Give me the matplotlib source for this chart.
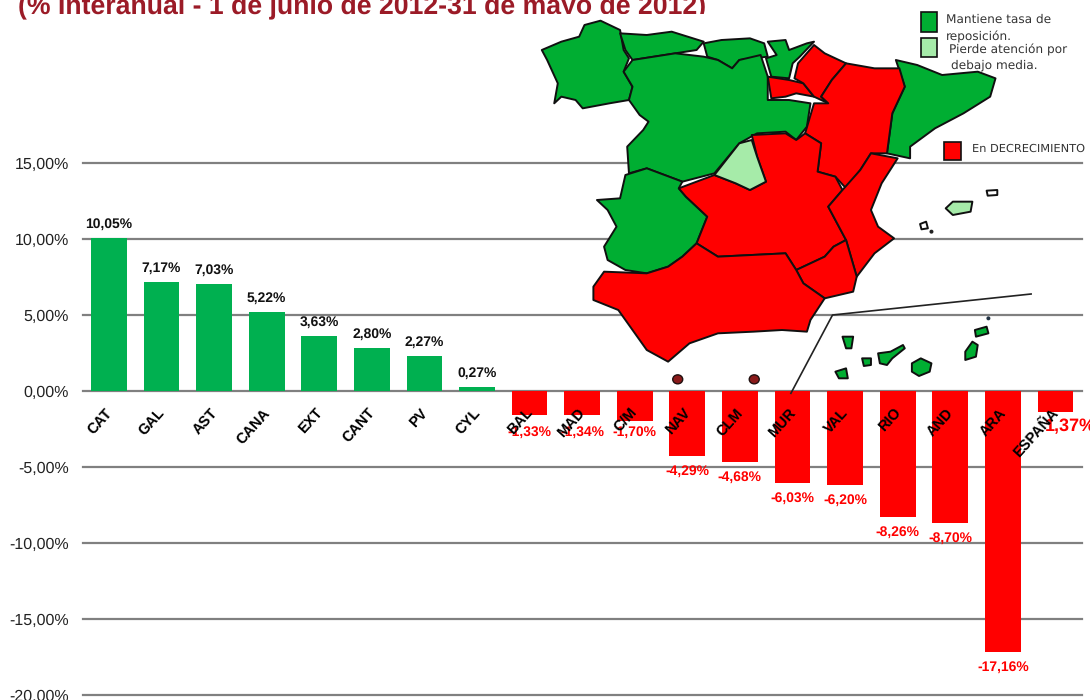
import matplotlib
matplotlib.use('Agg')
import matplotlib.pyplot as plt
from matplotlib.patches import Polygon, Rectangle, Ellipse

plt.rcParams['font.family'] = ['Liberation Sans', 'DejaVu Sans']
plt.rcParams['text.hinting'] = 'no_hinting'

categories = ['CAT', 'GAL', 'AST', 'CANA', 'EXT', 'CANT', 'PV', 'CYL', 'BAL', 'MAD', 'C/M',
              'NAV', 'CLM', 'MUR', 'VAL', 'RIO', 'AND', 'ARA', 'ESPAÑA']
# bar lengths as drawn (BAL, MAD and C/M are drawn longer than their labels say)
values = [10.05, 7.17, 7.03, 5.22, 3.63, 2.80, 2.27, 0.27, -1.55, -1.55, -1.95,
          -4.29, -4.68, -6.03, -6.20, -8.26, -8.70, -17.16, -1.37]
value_labels = ['10,05%', '7,17%', '7,03%', '5,22%', '3,63%', '2,80%', '2,27%', '0,27%',
                '-1,33%', '-1,34%', '-1,70%', '-4,29%', '-4,68%', '-6,03%', '-6,20%',
                '-8,26%', '-8,70%', '-17,16%', '1,37%']
yticks = [15, 10, 5, 0, -5, -10, -15, -20]
ytick_labels = ['15,00%', '10,00%', '5,00%', '0,00%', '-5,00%', '-10,00%', '-15,00%', '-20,00%']

W, H = 1090, 700
GRID = '#808080'
GREEN = '#00B050'
RED = '#FF0000'
TITLE = '#9B1B27'

fig = plt.figure(figsize=(W / 100, H / 100), dpi=100)
ax = fig.add_axes([82.7 / W, 5 / H, 999 / W, 532 / H])

x = list(range(len(categories)))
colors = [GREEN if v > 0 else RED for v in values]
ax.bar(x, values, width=0.68, color=colors, zorder=2)
ax.set_xlim(-0.5, 18.5)
ax.set_ylim(-20, 15)
for s in ax.spines.values():
    s.set_visible(False)
ax.set_yticks(yticks)
ax.set_yticklabels(ytick_labels, fontsize=11.5, color='#222222')
ax.tick_params(axis='y', length=0, pad=10)
ax.set_xticks([])
for yy in yticks:
    ax.axhline(yy, color=GRID, lw=1.6, zorder=1, clip_on=False)

# the short bars have their labels placed a little differently
label_shift = {'BAL': -12.5, 'MAD': -12.5, 'C/M': -8.5}
for i, (v, lab) in enumerate(zip(values, value_labels)):
    if lab == '1,37%':
        ax.annotate(lab, (i, v), xytext=(10.5, -10.5), textcoords='offset points', ha='center',
                    va='center', color=RED, fontsize=13, fontweight='bold',
                    family=['Liberation Sans Narrow', 'Liberation Sans'],
                    annotation_clip=False, zorder=5)
    elif v > 0:
        ax.annotate(lab, (i, v), xytext=(0, 10), textcoords='offset points', ha='center',
                    va='center', fontsize=10, fontweight='bold', color='#111111', zorder=5)
    else:
        ax.annotate(lab, (i, v), xytext=(0, label_shift.get(categories[i], -11)),
                    textcoords='offset points', ha='center',
                    va='center', fontsize=10, fontweight='bold', color=RED, zorder=5)

# category names sit rotated just under the zero line
for i, c in enumerate(categories):
    ax.annotate(c, (i, 0), xytext=(0.5, -14), textcoords='offset points', rotation=48,
                rotation_mode='anchor', ha='right', va='center', fontsize=10.5, color='black',
                fontweight='bold', annotation_clip=False, zorder=6)

fig.text(18 / W, 1 - 14 / H, '(% Interanual - 1 de junio de 2012-31 de mayo de 2012)',
         fontsize=19.2, fontweight='bold', color=TITLE, ha='left', va='baseline')

# pasted map image, redrawn as outlines in pixel coordinates of a 3x crop
mp = fig.add_axes([0, 0, 1, 1], zorder=10)
mp.set_xlim(0, W)
mp.set_ylim(H, 0)
mp.axis('off')
mp.patch.set_alpha(0)

# the picture's top edge cuts the tail of the title
mp.add_patch(Rectangle((541, 14), 190, 12, facecolor='white', edgecolor='none'))

MAP_GREEN = '#00AE32'
MAP_LIGHT = '#A6EBA9'
regions_green = [
    [(5,150),(60,125),(110,110),(125,75),(170,62),(225,90),(235,150),(250,175),(235,215),(260,260),(250,300),(195,310),(120,325),(100,300),(60,290),(40,310),(50,250),(20,180)],
    [(225,100),(300,105),(370,95),(460,125),(440,150),(380,160),(320,170),(260,180),(240,150)],
    [(460,130),(510,120),(590,115),(630,130),(640,170),(600,175),(560,180),(540,205),(500,180),(470,170)],
    [(640,125),(690,120),(700,150),(750,130),(770,125),(730,170),(710,190),(700,235),(650,230),(635,175),(665,165)],
    [(260,180),(380,160),(460,170),(500,180),(540,205),(560,180),(620,165),(640,230),(640,300),(700,300),(760,310),(750,380),(720,420),(690,395),(610,400),(560,430),(490,520),(400,545),(300,505),(250,520),(245,440),(290,390),(305,365),(280,345),(250,300),(260,260),(235,215)],
    [(1000,180),(1060,195),(1130,225),(1230,215),(1280,235),(1265,290),(1190,340),(1110,385),(1040,440),(1040,475),(975,460),(990,340),(1025,260)],
    [(300,505),(400,545),(390,565),(410,590),(470,650),(440,730),(400,770),(360,800),(300,820),(240,810),(190,780),(180,740),(215,680),(190,630),(160,600),(225,595),(240,525)],
    # canaries
    [(850,1010),(880,1010),(875,1045),(860,1045)],
    [(905,1075),(930,1075),(930,1095),(910,1098)],
    [(830,1115),(860,1105),(865,1135),(840,1135)],
    [(950,1060),(985,1055),(1020,1035),(1025,1045),(990,1075),(975,1095),(955,1090)],
    [(1045,1090),(1070,1075),(1100,1090),(1095,1115),(1065,1128),(1045,1115)],
    [(1195,1055),(1215,1025),(1230,1035),(1225,1070),(1195,1080)],
    [(1222,990),(1255,980),(1260,1000),(1225,1010)],
]
regions_red = [
    [(640,230),(700,240),(740,250),(770,290),(720,280),(690,290),(650,295)],
    [(770,135),(800,160),(860,190),(820,240),(790,290),(810,310),(770,290),(740,250),(715,235),(725,190)],
    [(860,190),(940,205),(1010,205),(1025,260),(990,340),(975,460),(930,460),(900,510),(860,565),(830,530),(780,515),(790,430),(745,400),(770,310),(810,310),(790,290),(820,240)],
    [(595,405),(690,400),(720,420),(745,400),(790,430),(780,515),(830,530),(850,570),(810,620),(840,680),(860,720),(825,740),(800,770),(720,810),(690,760),(500,770),(440,730),(470,650),(410,590),(390,565),(490,525),(550,550),(590,570),(635,545),(610,470)],
    [(930,460),(1005,475),(960,550),(930,630),(950,680),(995,715),(940,760),(890,830),(860,720),(840,680),(810,620),(850,570),(900,510)],
    [(825,740),(860,720),(890,830),(880,875),(800,895),(740,850),(720,810),(800,770)],
    [(440,730),(500,770),(690,760),(720,810),(740,850),(800,895),(760,960),(750,995),(680,990),(600,995),(500,1000),(420,1030),(360,1085),(300,1050),(260,990),(220,930),(150,900),(150,860),(180,815),(300,820),(360,800),(400,770)],
]
regions_light = [
    [(490,525),(560,430),(595,420),(610,470),(635,545),(590,570),(550,550)],
    [(1140,625),(1160,605),(1215,605),(1210,635),(1160,645)],
]
regions_white = [
    [(1255,572),(1285,570),(1285,585),(1258,587)],
    [(1068,672),(1085,665),(1090,685),(1072,688)],
]


def px(pts):
    return [(540 + a / 2.81, b / 3) for a, b in pts]


for regs, col in [(regions_green, MAP_GREEN), (regions_red, RED), (regions_light, MAP_LIGHT),
                  (regions_white, 'white')]:
    for r in regs:
        mp.add_patch(Polygon(px(r), closed=True, facecolor=col, edgecolor='#101010', lw=1.4, joinstyle='round'))

# ceuta, melilla and small islet marks
for cx, cy in [(387, 1138), (602, 1138)]:
    (a, b), = px([(cx, cy)])
    mp.add_patch(Ellipse((a, b), 10, 9, facecolor='#8A1A1A', edgecolor='#201010', lw=1))
(a, b), = px([(1100, 695)])
mp.add_patch(Ellipse((a, b), 4, 4, facecolor='#222222', edgecolor='none'))
(a, b), = px([(1260, 955)])
mp.add_patch(Ellipse((a, b), 4, 4, facecolor='#223344', edgecolor='none'))

# canaries inset line
lx, ly = zip(*px([(705, 1180), (822, 945), (1380, 882)]))
mp.plot(lx, ly, color='#222222', lw=1.2)

# legend of the map
for (x0, y0, x1, y1), col in [((1070, 37, 1115, 95), MAP_GREEN), ((1070, 115, 1115, 172), MAP_LIGHT),
                              ((1135, 425, 1183, 480), RED)]:
    (a0, b0), (a1, b1) = px([(x0, y0), (x1, y1)])
    mp.add_patch(Rectangle((a0, b0), a1 - a0, b1 - b0, facecolor=col, edgecolor='#101010', lw=1.2))
for tx, ty, s, fs in [(1140, 60, 'Mantiene tasa de', 8.7), (1140, 112, 'reposición.', 8.7),
                      (1150, 150, 'Pierde atención por', 8.7), (1155, 197, 'debajo media.', 8.7),
                      (1215, 445, 'En DECRECIMIENTO', 8.2)]:
    (a, b), = px([(tx, ty)])
    mp.text(a, b, s, fontsize=fs, family='DejaVu Sans', color='#333333', ha='left', va='center')

fig.savefig('out.png', dpi=100)
